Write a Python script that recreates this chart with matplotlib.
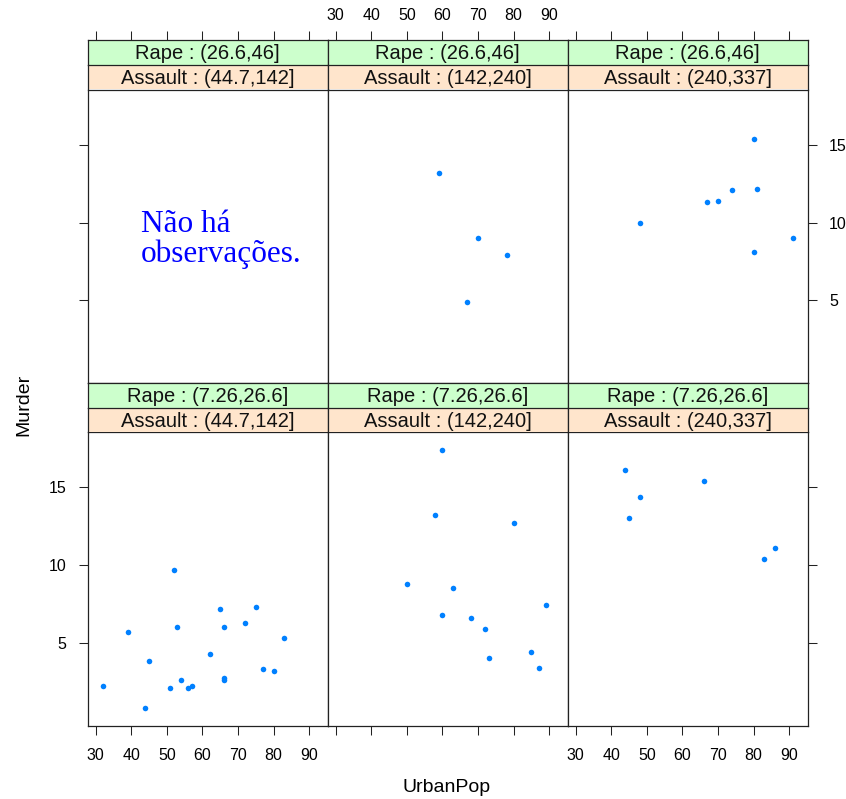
import matplotlib
matplotlib.use("Agg")
import matplotlib.pyplot as plt
import numpy as np

plt.rcParams['font.family'] = ['Liberation Sans', 'DejaVu Sans']

# USArrests, Murder ~ UrbanPop | Assault * Rape (lattice style)
assault_labels = ["Assault : (44.7,142]", "Assault : (142,240]", "Assault : (240,337]"]
rape_labels = ["Rape : (7.26,26.6]", "Rape : (26.6,46]"]

# rape (7.26,26.6]
pop_low_a1 = [77, 83, 54, 65, 57, 66, 52, 51, 66, 53, 62, 56, 44, 75, 72, 45, 80, 32, 39, 66]
mur_low_a1 = [3.3, 5.3, 2.6, 7.2, 2.2, 6.0, 9.7, 2.1, 2.7, 6.0, 4.3, 2.1, 0.8, 7.3, 6.3, 3.8, 3.2, 2.2, 5.7, 2.6]
pop_low_a2 = [58, 50, 72, 60, 85, 89, 68, 87, 80, 63, 73, 60]
mur_low_a2 = [13.2, 8.8, 5.9, 17.4, 4.4, 7.4, 6.6, 3.4, 12.7, 8.5, 4.0, 6.8]
pop_low_a3 = [83, 66, 44, 86, 45, 48]
mur_low_a3 = [10.4, 15.4, 16.1, 11.1, 13.0, 14.4]
# rape (26.6,46]
pop_high_a1 = []
mur_high_a1 = []
pop_high_a2 = [59, 70, 78, 67]
mur_high_a2 = [13.2, 9.0, 7.9, 4.9]
pop_high_a3 = [48, 80, 91, 80, 67, 74, 81, 70]
mur_high_a3 = [10.0, 8.1, 9.0, 15.4, 11.3, 12.1, 12.2, 11.4]

xticks = [30, 40, 50, 60, 70, 80, 90]
yticks = [5, 10, 15]

panels = {
    (1, 0): (pop_low_a1, mur_low_a1),
    (1, 1): (pop_low_a2, mur_low_a2),
    (1, 2): (pop_low_a3, mur_low_a3),
    (0, 0): (pop_high_a1, mur_high_a1),
    (0, 1): (pop_high_a2, mur_high_a2),
    (0, 2): (pop_high_a3, mur_high_a3),
}

allx = pop_low_a1 + pop_low_a2 + pop_low_a3 + pop_high_a2 + pop_high_a3
ally = mur_low_a1 + mur_low_a2 + mur_low_a3 + mur_high_a2 + mur_high_a3
pad = 0.07
xr = max(allx) - min(allx)
yr = max(ally) - min(ally)
xlim = (min(allx) - pad * xr, max(allx) + pad * xr)
ylim = (min(ally) - pad * yr, max(ally) + pad * yr)

W, H = 846, 799
fig = plt.figure(figsize=(W / 100, H / 100), dpi=100)

def box(x0, y0, w, h):
    return [x0 / W, 1 - (y0 + h) / H, w / W, h / H]

col_x = [88, 328, 568]
pw = 239.5
rows = [(40, 90, 293), (383, 432, 294)]  # strip top, panel top, panel height
strip_h = 24.7
lc = '#222222'
tick_kw = dict(length=6.5, width=0.75, color=lc, labelsize=11.5, direction='out')

for r in range(2):
    st, pt, ph = rows[r]
    for c in range(3):
        ax = fig.add_axes(box(col_x[c], pt, pw, ph))
        x, y = panels[(r, c)]
        ax.plot(x, y, 'o', color='#0080ff', ms=4, mec='none')
        ax.set_xlim(xlim)
        ax.set_ylim(ylim)
        ax.set_xticks(xticks)
        ax.set_yticks(yticks)
        for s in ax.spines.values():
            s.set_color(lc)
            s.set_linewidth(0.9)
        ax.tick_params(axis='both', **tick_kw)
        ax.tick_params(axis='x', bottom=(r == 1), top=False, labelbottom=(r == 1 and c != 1), labeltop=False, pad=9)
        ax.tick_params(axis='y', left=(c == 0), right=(c == 2), labelleft=(r == 1 and c == 0), labelright=(r == 0 and c == 2), pad=9)
        if r == 0 and c == 0:
            ax.text(0.222, 0.49, "Não há\nobservações.", transform=ax.transAxes,
                    fontsize=22.5, color='blue', family=['Liberation Serif', 'DejaVu Serif'],
                    ha='left', va='center', linespacing=1.05)

        # strips: Rape on top (green), Assault below (orange)
        for k, (lab, fc) in enumerate([(rape_labels[1 - r], '#ccffcc'), (assault_labels[c], '#ffe5cc')]):
            sa = fig.add_axes(box(col_x[c], st + k * strip_h, pw, strip_h))
            sa.set_facecolor(fc)
            sa.set_xlim(xlim)
            sa.set_yticks([])
            for s in sa.spines.values():
                s.set_color(lc)
                s.set_linewidth(0.9)
            sa.spines['bottom'].set_visible(False)
            sa.text(0.5, 0.45, lab, transform=sa.transAxes, ha='center', va='center', fontsize=14.5, color='#111111')
            if r == 0 and k == 0:
                sa.set_xticks(xticks)
                sa.tick_params(axis='x', **tick_kw)
                sa.tick_params(axis='x', bottom=False, top=True, labelbottom=False, labeltop=(c == 1), pad=5.5)
            else:
                sa.set_xticks([])

fig.text(447 / W, 1 - 788 / H, "UrbanPop", ha='center', va='center', fontsize=14)
fig.text(24 / W, 1 - 405 / H, "Murder", ha='center', va='center', rotation=90, fontsize=14)

fig.savefig("out.png", dpi=100)
